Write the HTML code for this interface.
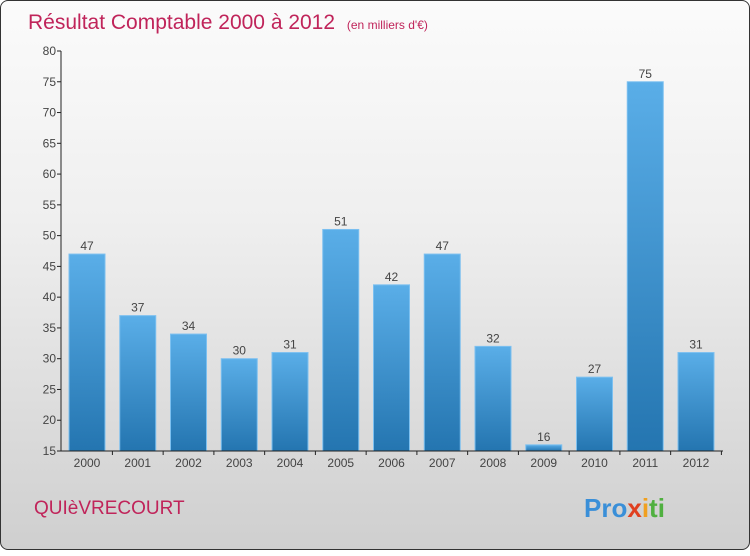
<!DOCTYPE html>
<html><head><meta charset="utf-8"><style>
body{margin:0;width:750px;height:550px;overflow:hidden}
#c{position:absolute;left:0;top:0;width:748px;height:548px;border:1px solid #333;border-radius:8px;background:linear-gradient(#fbfbfb 0%,#efefef 40%,#cfcfcf 100%);font-family:"Liberation Sans",sans-serif}
</style></head><body>
<div id="c">
<svg width="750" height="550">
<defs><linearGradient id="g" x1="0" y1="0" x2="0" y2="1"><stop offset="0" stop-color="#5aaee8"/><stop offset="1" stop-color="#2475b0"/></linearGradient></defs>
<text x="27" y="28" font-size="21" fill="#c0245a">Résultat Comptable 2000 à 2012 <tspan font-size="12" dx="6">(en milliers d'€)</tspan></text>
<g id="plot"></g>
<text x="33" y="513" font-size="19" fill="#c0245a">QUIèVRECOURT</text>
<text x="583" y="516" font-size="26" font-weight="bold"><tspan fill="#3a8fd8">Pro</tspan><tspan fill="#e04020">x</tspan><tspan fill="#f0a020">i</tspan><tspan fill="#50b040">ti</tspan></text>
</svg></div>
<script>
const categories=["2000","2001","2002","2003","2004","2005","2006","2007","2008","2009","2010","2011","2012"];
const values=[47,37,34,30,31,51,42,47,32,16,27,75,31];
const yTicks=[15,20,25,30,35,40,45,50,55,60,65,70,75,80];
const NS="http://www.w3.org/2000/svg";
const g=document.getElementById('plot');
const y=v=>450-(v-15)*400/65;
const x=i=>86+i*50.75;
function mk(t,a){const e=document.createElementNS(NS,t);for(const k in a)e.setAttribute(k,a[k]);g.appendChild(e);return e;}
yTicks.forEach(t=>{
  const l=mk('line',{x1:56,x2:60,y1:y(t),y2:y(t),stroke:'#222'});
  
  
  const tx=mk('text',{x:55,y:y(t)+4,'text-anchor':'end','font-size':12,fill:'#444'});
  tx.textContent=t;
  
  
});
categories.forEach((c,i)=>{
  const v=values[i];
  const r=mk('rect',{x:x(i)-18,y:y(v),width:36,height:450-y(v),fill:'url(#g)',stroke:'#7cc0f0','stroke-width':1});
  
  
  const vt=mk('text',{x:x(i),y:y(v)-4,'text-anchor':'middle','font-size':12,fill:'#444'});
  vt.textContent=v;
  
  
  const ct=mk('text',{x:x(i),y:466,'text-anchor':'middle','font-size':12,fill:'#444'});
  ct.textContent=c;
  
  
  const tk=mk('line',{x1:x(i)+25.4,x2:x(i)+25.4,y1:450,y2:454,stroke:'#222'});
  
  
});
const ya=mk('line',{x1:60,x2:60,y1:50,y2:450,stroke:'#222'});


const xa=mk('line',{x1:60,x2:722,y1:450,y2:450,stroke:'#222'});


</script>
</body></html>
